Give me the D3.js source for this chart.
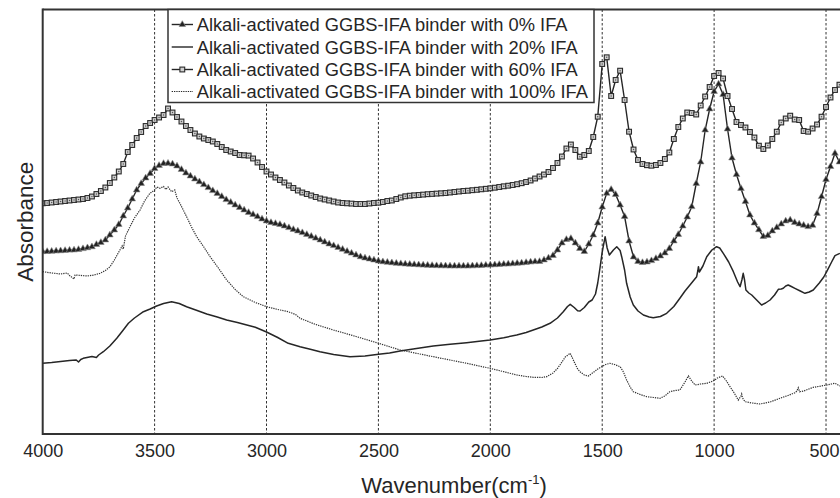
<!DOCTYPE html>
<html>
<head>
<meta charset="utf-8">
<script src="https://cdn.jsdelivr.net/npm/d3@7"></script>
<style>
  html, body { margin: 0; padding: 0; background: #fff; }
  svg { display: block; font-family: "Liberation Sans", Arial, sans-serif; }
</style>
</head>
<body>
<script>
// ---------- DATA ----------
const tickValues = [4000, 3500, 3000, 2500, 2000, 1500, 1000, 500];

const seriesNames = [
  "Alkali-activated GGBS-IFA binder with 0% IFA",
  "Alkali-activated GGBS-IFA binder with 20% IFA",
  "Alkali-activated GGBS-IFA binder with 60% IFA",
  "Alkali-activated GGBS-IFA binder with 100% IFA"
];

// wavenumber grid for the marker series (cm^-1)
const wnMarked = [4000,3980,3960,3940,3920,3900,3880,3860,3840,3820,3800,3780,3760,3740,3720,3700,3680,3660,3640,3620,
3600,3580,3560,3540,3520,3500,3480,3460,3440,3420,3400,3380,3360,3340,3320,3300,3280,3260,3240,3220,
3200,3180,3160,3140,3120,3100,3080,3060,3040,3020,3000,2980,2960,2940,2920,2900,2880,2860,2840,2820,
2800,2780,2760,2740,2720,2700,2680,2660,2640,2620,2600,2580,2560,2540,2520,2500,2480,2460,2440,2420,
2400,2380,2360,2340,2320,2300,2280,2260,2240,2220,2200,2180,2160,2140,2120,2100,2080,2060,2040,2020,
2000,1980,1960,1940,1920,1900,1880,1860,1840,1820,1800,1780,1760,1740,1720,1700,1680,1660,1640,1620,
1600,1580,1560,1540,1520,1500,1480,1460,1440,1420,1400,1380,1360,1340,1320,1300,1280,1260,1240,1220,
1200,1180,1160,1140,1120,1100,1080,1060,1040,1020,1000,980,960,940,920,900,880,860,840,820,
800,780,760,740,720,700,680,660,640,620,600,580,560,540,520,500,480,460,440];

// 0% IFA (triangles), absorbance a.u.
const abs0 = [1.823,1.825,1.827,1.83,1.832,1.835,1.838,1.84,1.845,1.853,1.862,1.872,1.895,1.915,1.94,1.99,2.04,2.095,2.18,2.26,
2.35,2.44,2.505,2.56,2.605,2.655,2.685,2.705,2.707,2.70,2.68,2.645,2.61,2.58,2.55,2.522,2.493,2.463,2.433,2.405,
2.375,2.343,2.317,2.29,2.265,2.24,2.215,2.195,2.173,2.15,2.13,2.115,2.105,2.095,2.08,2.063,2.045,2.03,2.013,1.995,
1.977,1.958,1.94,1.92,1.90,1.883,1.865,1.846,1.827,1.808,1.79,1.772,1.76,1.75,1.74,1.73,1.722,1.717,1.712,1.707,
1.703,1.70,1.697,1.694,1.691,1.689,1.687,1.685,1.683,1.682,1.681,1.68,1.68,1.68,1.68,1.68,1.681,1.683,1.685,1.688,
1.69,1.692,1.695,1.698,1.70,1.703,1.707,1.71,1.715,1.72,1.723,1.725,1.74,1.76,1.785,1.84,1.91,1.945,1.955,1.91,
1.855,1.825,1.90,1.99,2.11,2.27,2.407,2.445,2.395,2.29,2.175,1.93,1.77,1.725,1.714,1.72,1.733,1.755,1.78,1.81,
1.855,1.93,1.995,2.08,2.17,2.273,2.505,2.72,3.04,3.25,3.425,3.50,3.395,3.05,2.76,2.595,2.455,2.325,2.19,2.11,
2.042,1.975,1.985,2.03,2.065,2.10,2.13,2.14,2.115,2.10,2.087,2.073,2.087,2.205,2.373,2.545,2.675,2.807,2.72];

// 60% IFA (squares), absorbance a.u.
const abs60 = [2.307,2.31,2.315,2.32,2.325,2.33,2.335,2.34,2.345,2.35,2.36,2.375,2.40,2.43,2.465,2.51,2.565,2.625,2.70,2.82,
2.89,2.96,3.02,3.08,3.11,3.14,3.165,3.19,3.255,3.215,3.17,3.125,3.08,3.04,3.005,2.975,2.955,2.94,2.925,2.90,
2.87,2.84,2.825,2.81,2.79,2.787,2.784,2.755,2.715,2.67,2.625,2.595,2.565,2.54,2.515,2.485,2.46,2.435,2.415,2.40,
2.385,2.37,2.355,2.345,2.335,2.325,2.315,2.31,2.307,2.304,2.30,2.30,2.30,2.305,2.31,2.313,2.32,2.33,2.335,2.35,
2.365,2.377,2.383,2.387,2.39,2.394,2.398,2.401,2.404,2.407,2.41,2.415,2.42,2.425,2.43,2.433,2.438,2.442,2.447,2.452,
2.457,2.463,2.47,2.477,2.483,2.49,2.498,2.508,2.52,2.535,2.555,2.575,2.595,2.62,2.66,2.71,2.775,2.855,2.895,2.84,
2.773,2.79,2.83,2.97,3.173,3.70,3.767,3.38,3.54,3.633,3.34,3.023,2.845,2.74,2.70,2.688,2.683,2.69,2.71,2.75,
2.815,2.95,3.07,3.155,3.215,3.21,3.195,3.285,3.375,3.47,3.58,3.61,3.555,3.38,3.25,3.12,3.09,3.065,3.02,2.965,
2.883,2.85,2.885,2.95,3.023,3.115,3.155,3.183,3.145,3.14,3.03,3.023,3.055,3.095,3.173,3.27,3.365,3.44,3.493];

// 20% IFA (solid line)
const wn20 = [4000,3960,3920,3880,3850,3840,3830,3819,3780,3760,3750,3729,3700,3669,3640,3617,3590,3550,3520,3491,
3460,3424,3390,3357,3310,3267,3220,3178,3130,3088,3050,3000,2950,2903,2850,2800,2761,2700,2627,2560,
2499,2450,2403,2330,2255,2180,2106,2050,2001,1940,1882,1840,1808,1770,1733,1700,1674,1655,1643,1625,
1610,1599,1580,1560,1545,1530,1520,1510,1500,1487,1478,1468,1450,1435,1420,1413,1400,1391,1375,1361,
1340,1316,1290,1272,1240,1212,1180,1153,1130,1108,1078,1073,1070,1066,1050,1033,1010,989,975,959,
935,914,895,884,876,870,864,858,845,832,810,788,770,750,730,713,700,691,680,669,
655,639,615,594,575,557,530,510,497,475,460,438];
const abs20 = [0.707,0.715,0.725,0.735,0.74,0.72,0.745,0.757,0.775,0.765,0.79,0.823,0.88,0.957,1.04,1.107,1.16,1.223,1.25,1.28,
1.305,1.323,1.305,1.273,1.235,1.20,1.17,1.14,1.115,1.09,1.067,1.02,0.965,0.907,0.873,0.845,0.823,0.795,0.773,0.78,
0.797,0.81,0.83,0.855,0.88,0.897,0.913,0.927,0.94,0.963,0.99,1.015,1.04,1.07,1.107,1.16,1.223,1.275,1.297,1.265,
1.232,1.23,1.265,1.32,1.34,1.40,1.51,1.66,1.82,1.973,1.86,1.79,1.84,1.873,1.835,1.773,1.64,1.507,1.37,1.29,
1.23,1.19,1.17,1.163,1.175,1.207,1.275,1.357,1.43,1.49,1.573,1.63,1.673,1.62,1.68,1.773,1.84,1.873,1.86,1.807,
1.72,1.623,1.52,1.473,1.54,1.607,1.54,1.44,1.41,1.39,1.34,1.29,1.31,1.34,1.39,1.447,1.45,1.457,1.48,1.49,
1.475,1.457,1.43,1.407,1.42,1.44,1.51,1.57,1.623,1.72,1.783,1.807];

// 100% IFA (dotted line)
const wn100 = [4000,3960,3920,3890,3880,3860,3855,3800,3770,3744,3720,3699,3680,3655,3645,3640,3630,3610,3590,3565,
3545,3521,3500,3490,3476,3460,3450,3440,3424,3410,3400,3387,3357,3335,3312,3280,3252,3215,3178,3140,
3104,3050,2999,2950,2903,2870,2850,2780,2701,2600,2499,2403,2330,2255,2180,2106,2050,2001,1940,1882,
1840,1808,1770,1748,1720,1700,1689,1665,1643,1625,1610,1599,1580,1562,1540,1520,1502,1485,1465,1445,
1420,1405,1391,1375,1361,1330,1301,1270,1242,1220,1205,1198,1175,1153,1130,1115,1100,1085,1060,1033,
1004,985,962,945,929,910,892,880,877,873,862,830,795,750,706,670,639,630,624,618,
600,557,520,497,475,460,450,438];
const abs100 = [1.623,1.61,1.60,1.61,1.585,1.55,1.59,1.58,1.59,1.607,1.635,1.673,1.74,1.84,1.88,1.85,1.98,2.073,2.16,2.24,
2.33,2.407,2.44,2.47,2.457,2.475,2.445,2.47,2.423,2.44,2.36,2.307,2.173,2.07,1.973,1.87,1.773,1.66,1.54,1.445,
1.373,1.315,1.273,1.245,1.223,1.195,1.157,1.095,1.04,0.975,0.907,0.84,0.807,0.773,0.74,0.707,0.68,0.657,0.623,0.59,
0.575,0.567,0.565,0.573,0.61,0.655,0.69,0.77,0.807,0.72,0.65,0.623,0.59,0.58,0.615,0.65,0.673,0.695,0.707,0.695,
0.673,0.62,0.54,0.47,0.423,0.395,0.373,0.365,0.357,0.38,0.41,0.423,0.435,0.44,0.52,0.58,0.53,0.49,0.50,0.507,
0.53,0.56,0.58,0.53,0.473,0.41,0.34,0.38,0.40,0.36,0.323,0.31,0.30,0.32,0.357,0.385,0.413,0.43,0.463,0.423,
0.43,0.467,0.48,0.49,0.50,0.507,0.495,0.48];

// ---------- CHART ----------
const W = 840, H = 498;
const plot = { left: 42.7, top: 9.5, bottom: 434, right: 840 };
const ink = "#262626";

const x = d3.scaleLinear().domain([4000, 400]).range([plot.left, 848.4]);
const y = d3.scaleLinear().domain([0, 4.245]).range([plot.bottom, plot.top]);

const svg = d3.select("body").append("svg").attr("width", W).attr("height", H);

svg.append("defs").append("clipPath").attr("id", "plotclip")
  .append("rect").attr("x", plot.left).attr("y", plot.top)
  .attr("width", plot.right - plot.left).attr("height", plot.bottom - plot.top);

// gridlines
svg.append("g").selectAll("line").data(tickValues.filter(d => d !== 4000)).join("line")
  .attr("x1", d => x(d)).attr("x2", d => x(d))
  .attr("y1", plot.top).attr("y2", plot.bottom)
  .attr("stroke", "#333").attr("stroke-width", 1).attr("stroke-dasharray", "2.5,2");

// x axis labels
const xAxis = d3.axisBottom(x).tickValues(tickValues).tickSize(0).tickPadding(10).tickFormat(d3.format("d"));
const gx = svg.append("g").attr("transform", `translate(0,${plot.bottom})`).call(xAxis);
gx.select(".domain").remove();
gx.selectAll("text").attr("font-size", 18).attr("fill", ink).attr("font-family", "Liberation Sans, Arial, sans-serif")
  .attr("dx", d => d === 500 ? -2 : 0);

// curves
const g = svg.append("g").attr("clip-path", "url(#plotclip)");
const lineGen = d3.line().x(d => x(d[0])).y(d => y(d[1]));

const pts0 = wnMarked.map((w, i) => [w, abs0[i]]);
const pts60 = wnMarked.map((w, i) => [w, abs60[i]]);
const pts20 = wn20.map((w, i) => [w, abs20[i]]);
const pts100 = wn100.map((w, i) => [w, abs100[i]]);

g.append("path").datum(pts100).attr("d", lineGen).attr("fill", "none")
  .attr("stroke", "#333").attr("stroke-width", 1.2).attr("stroke-dasharray", "1.3,1");
g.append("path").datum(pts20).attr("d", lineGen).attr("fill", "none")
  .attr("stroke", ink).attr("stroke-width", 1.5).attr("stroke-linejoin", "round");
g.append("path").datum(pts0).attr("d", lineGen).attr("fill", "none")
  .attr("stroke", ink).attr("stroke-width", 1.4);
g.append("path").datum(pts60).attr("d", lineGen).attr("fill", "none")
  .attr("stroke", ink).attr("stroke-width", 1.4);

const tri = d3.symbol().type(d3.symbolTriangle).size(19);
g.append("g").selectAll("path").data(pts0).join("path")
  .attr("d", tri).attr("transform", d => `translate(${x(d[0])},${y(d[1])})`)
  .attr("fill", "#222").attr("stroke", "#8a8a8a").attr("stroke-width", 0.6);

const sq = 4.8;
const sqG = g.append("g").selectAll("g").data(pts60).join("g")
  .attr("transform", d => `translate(${x(d[0])},${y(d[1])})`);
sqG.append("rect").attr("x", -sq / 2).attr("y", -sq / 2).attr("width", sq).attr("height", sq)
  .attr("fill", "#d0d0d0").attr("stroke", "#2a2a2a").attr("stroke-width", 1.1);
sqG.append("circle").attr("r", 0.7).attr("fill", "#555");

// frame
svg.append("line").attr("x1", plot.left).attr("x2", plot.left).attr("y1", plot.top - 1).attr("y2", plot.bottom + 1)
  .attr("stroke", "#333").attr("stroke-width", 2);
svg.append("line").attr("x1", plot.left).attr("x2", W).attr("y1", plot.bottom).attr("y2", plot.bottom)
  .attr("stroke", "#333").attr("stroke-width", 2);
svg.append("line").attr("x1", plot.left).attr("x2", W).attr("y1", plot.top).attr("y2", plot.top)
  .attr("stroke", "#333").attr("stroke-width", 2);

// legend
const leg = svg.append("g");
leg.append("rect").attr("x", 168).attr("y", plot.top).attr("width", 426).attr("height", 93)
  .attr("fill", "#fff").attr("stroke", "#333").attr("stroke-width", 1.5);
const rowY = [24.5, 47, 69.5, 91.5];
seriesNames.forEach((name, i) => {
  const cy = rowY[i];
  const l = leg.append("line").attr("x1", 171.7).attr("x2", 193).attr("y1", cy).attr("y2", cy)
    .attr("stroke", ink).attr("stroke-width", 1.4);
  if (i === 3) l.attr("stroke-dasharray", "1.3,1").attr("stroke-width", 1.2);
  if (i === 0) {
    leg.append("path").attr("d", tri).attr("transform", `translate(182.3,${cy})`)
      .attr("fill", "#222").attr("stroke", "#8a8a8a").attr("stroke-width", 0.6);
  }
  if (i === 2) {
    leg.append("rect").attr("x", 182.3 - sq / 2).attr("y", cy - sq / 2).attr("width", sq).attr("height", sq)
      .attr("fill", "#d0d0d0").attr("stroke", "#2a2a2a").attr("stroke-width", 1.1);
  }
  leg.append("text").attr("x", 196.7).attr("y", cy + 6.7).attr("font-size", 18.3)
    .attr("fill", ink).text(name);
});

// axis titles
const xt = svg.append("text").attr("x", 454).attr("y", 493.3).attr("text-anchor", "middle")
  .attr("font-size", 22).attr("fill", ink);
xt.append("tspan").text("Wavenumber(cm");
xt.append("tspan").attr("font-size", 13).attr("dy", -9).text("-1");
xt.append("tspan").attr("dy", 9).text(")");

svg.append("text").attr("transform", `translate(33,${(plot.top + plot.bottom) / 2}) rotate(-90)`)
  .attr("text-anchor", "middle").attr("font-size", 22.5).attr("fill", ink).text("Absorbance");
</script>
</body>
</html>
